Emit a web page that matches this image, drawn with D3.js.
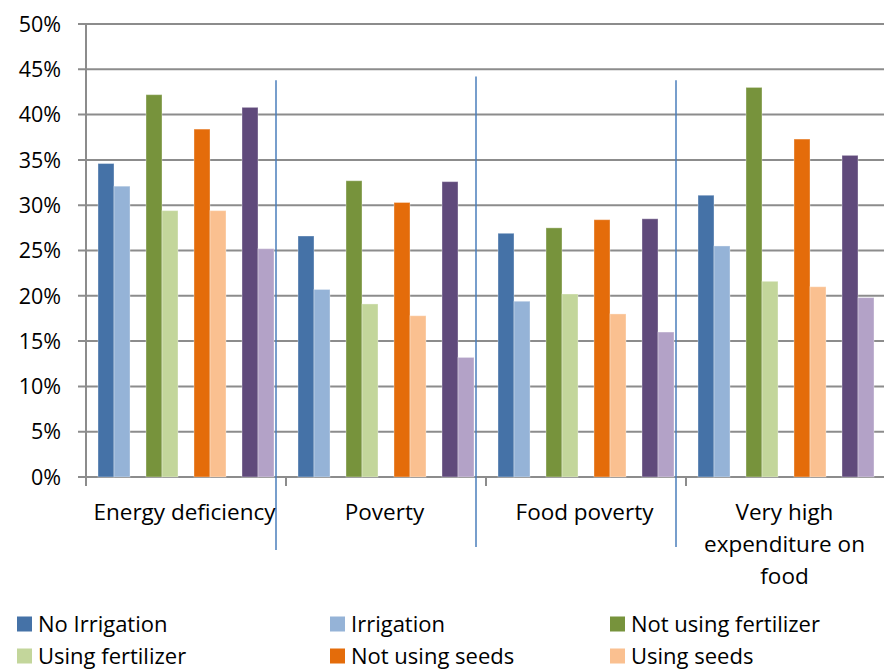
<!DOCTYPE html>
<html><head><meta charset="utf-8">
<script src="https://cdn.jsdelivr.net/npm/d3@7"></script>
<style>
body{margin:0;background:#fff;}
svg{display:block;}
text{font-family:"Open Sans","Noto Sans",sans-serif;fill:#000;}
</style></head>
<body>
<svg id="c" width="884" height="672"></svg>
<script>
const categories = ["Energy deficiency", "Poverty", "Food poverty", "Very high expenditure on food"];
const categoryLines = [["Energy deficiency"], ["Poverty"], ["Food poverty"], ["Very high", "expenditure on", "food"]];
const seriesNames = ["No Irrigation", "Irrigation", "Not using fertilizer", "Using fertilizer", "Not using seeds", "Using seeds", "Not using pesticide", "Using pesticide"];
const seriesColors = ["#4572A7", "#95B3D7", "#77933C", "#C3D69B", "#E46C0A", "#FAC090", "#604A7B", "#B3A2C7"];
const noIrrigation = [0.346, 0.266, 0.269, 0.311];
const irrigation = [0.321, 0.207, 0.194, 0.255];
const notUsingFertilizer = [0.422, 0.327, 0.275, 0.430];
const usingFertilizer = [0.294, 0.191, 0.202, 0.216];
const notUsingSeeds = [0.384, 0.303, 0.284, 0.373];
const usingSeeds = [0.294, 0.178, 0.180, 0.210];
const notUsingPesticide = [0.408, 0.326, 0.285, 0.355];
const usingPesticide = [0.252, 0.132, 0.160, 0.198];
const yTicks = [0, 0.05, 0.10, 0.15, 0.20, 0.25, 0.30, 0.35, 0.40, 0.45, 0.50];

const seriesValues = [noIrrigation, irrigation, notUsingFertilizer, usingFertilizer, notUsingSeeds, usingSeeds, notUsingPesticide, usingPesticide];
const pairs = [0, 1, 2, 3];

const svg = d3.select("#c");
const pLeft = 86, pRight = 886, pTop = 24, pBottom = 477;

const x = d3.scaleBand().domain(categories).range([pLeft, pRight]).padding(0);
const xPair = d3.scaleBand().domain(pairs).range([0, x.bandwidth()]).paddingInner(1/3).paddingOuter(0.25);
const xIn = d3.scaleBand().domain([0, 1]).range([0, xPair.bandwidth()]);
const y = d3.scaleLinear().domain([0, 0.5]).range([pBottom, pTop]);

// gridlines
svg.append("g").selectAll("line").data(yTicks).join("line")
  .attr("x1", pLeft - 8).attr("x2", pRight).attr("y1", d => y(d)).attr("y2", d => y(d))
  .attr("stroke", "#8C8C8C").attr("stroke-width", 2);

// y axis line
svg.append("line").attr("x1", pLeft).attr("x2", pLeft).attr("y1", y(0.5)).attr("y2", pBottom)
  .attr("stroke", "#8C8C8C").attr("stroke-width", 2);

// y labels
svg.append("g").selectAll("text").data(yTicks).join("text")
  .attr("x", 61).attr("y", d => y(d)).attr("dy", "0.36em").attr("text-anchor", "end")
  .attr("font-size", 21.5).text(d => d3.format(".0%")(d));

// category ticks
svg.append("g").selectAll("line").data(categories).join("line")
  .attr("x1", d => x(d)).attr("x2", d => x(d)).attr("y1", pBottom).attr("y2", pBottom + 9)
  .attr("stroke", "#8C8C8C").attr("stroke-width", 2);

// bars
const barData = [];
categories.forEach((c, ci) => {
  seriesValues.forEach((vals, si) => {
    barData.push({c, si, v: vals[ci]});
  });
});
svg.append("g").selectAll("rect").data(barData).join("rect")
  .attr("x", d => x(d.c) + xPair(Math.floor(d.si / 2)) + xIn(d.si % 2))
  .attr("width", xIn.bandwidth())
  .attr("y", d => y(d.v))
  .attr("height", d => pBottom - y(d.v))
  .attr("fill", d => seriesColors[d.si])
  .attr("stroke", "#ffffff").attr("stroke-opacity", 0.35).attr("stroke-width", 1);

// separator lines (drawn shapes)
const sepTop = [0.438, 0.442, 0.438];
const sepBottom = [550, 547, 547];
svg.append("g").selectAll("line").data(categories.slice(0, 3)).join("line")
  .attr("x1", c => x(c) + xPair(3) + xPair.bandwidth() + 2)
  .attr("x2", c => x(c) + xPair(3) + xPair.bandwidth() + 2)
  .attr("y1", (c, i) => y(sepTop[i])).attr("y2", (c, i) => sepBottom[i])
  .attr("stroke", "#4A7EBB").attr("stroke-width", 1.5);

// category labels
const catG = svg.append("g");
categories.forEach((c, ci) => {
  const cx = x(c) + x.bandwidth() / 2 - 1.5;
  const t = catG.append("text").attr("text-anchor", "middle").attr("font-size", 22.5)
    .attr("x", cx).attr("y", 520);
  categoryLines[ci].forEach((ln, li) => {
    t.append("tspan").attr("x", cx).attr("dy", li === 0 ? 0 : 32).text(ln);
  });
});

// legend (only the first two rows are visible in the reference; the third row is cropped)
const legendShown = seriesNames.slice(0, 6);
const legX = [17, 330, 610];
const leg = svg.append("g").selectAll("g").data(legendShown).join("g")
  .attr("transform", (d, i) => `translate(${legX[i % 3]},${624 + Math.floor(i / 3) * 32})`);
leg.append("rect").attr("x", 0).attr("y", -7.5).attr("width", 15).attr("height", 15)
  .attr("fill", (d, i) => seriesColors[i]);
leg.append("text").attr("x", 21).attr("y", 0).attr("dy", "0.35em").attr("font-size", 22).text(d => d);
</script>
</body></html>
